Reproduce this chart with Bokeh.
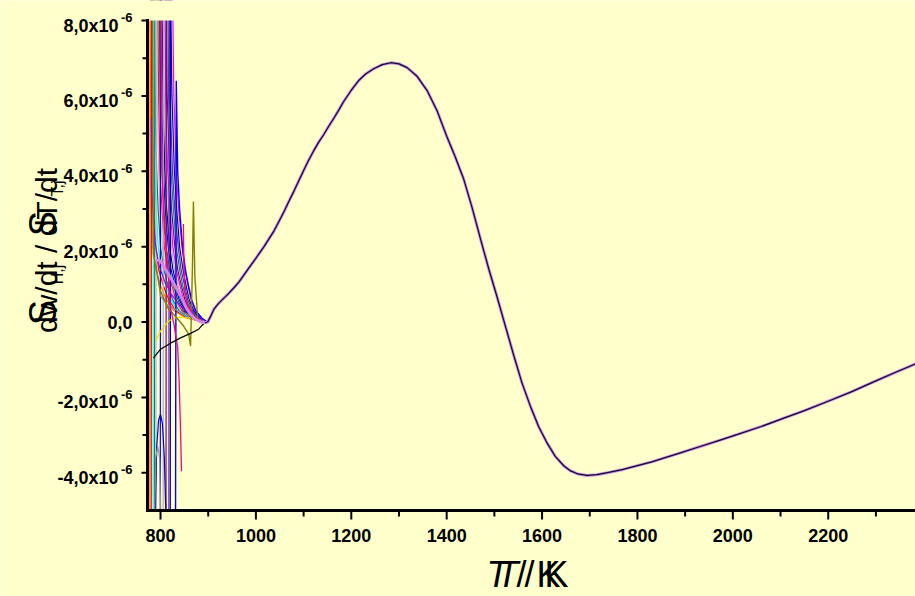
import numpy as np
from bokeh.plotting import figure
from bokeh.models import Range1d
from bokeh.core.properties import value
from bokeh.embed import file_html
from bokeh.resources import INLINE

FONT = "Liberation Sans"
BG = "#FFFFCC"

# ---- converged rate curve (T in K, rate in units of 1e-6) ----
T_main = [790, 800, 810, 820, 831, 842, 852, 862, 873, 885, 893, 899, 905, 912, 920,
          930, 940, 954, 965, 975, 985, 996, 1006, 1017, 1027, 1038, 1048, 1059,
          1069, 1080, 1090, 1100, 1110, 1121, 1131, 1142, 1152, 1163, 1174, 1184,
          1200, 1215, 1230, 1247, 1265, 1283, 1300, 1317, 1338, 1359, 1380, 1401,
          1418, 1436, 1453, 1471, 1488, 1506, 1524, 1541, 1558, 1576, 1593, 1611,
          1628, 1646, 1660, 1675, 1694, 1715, 1740, 1770, 1800, 1830, 1860, 1890,
          1930, 1967, 2010, 2060, 2107, 2150, 2200, 2247, 2300, 2340, 2383]
rate_main = [1.65, 1.62, 1.40, 1.20, 0.95, 0.70, 0.42, 0.22, 0.08, 0.00, -0.02, 0.00,
             0.15, 0.34, 0.47, 0.60, 0.72, 0.91, 1.07, 1.25, 1.43, 1.62, 1.80, 2.00,
             2.20, 2.42, 2.66, 2.93, 3.20, 3.48, 3.75, 4.02, 4.28, 4.54, 4.76, 4.97,
             5.18, 5.40, 5.63, 5.85, 6.15, 6.40, 6.58, 6.72, 6.83, 6.88, 6.85, 6.75,
             6.52, 6.14, 5.60, 4.90, 4.38, 3.78, 3.05, 2.20, 1.42, 0.65, -0.15, -0.90,
             -1.62, -2.25, -2.78, -3.22, -3.57, -3.82, -3.95, -4.03, -4.07, -4.05,
             -3.99, -3.91, -3.81, -3.71, -3.59, -3.47, -3.31, -3.16, -2.98, -2.77,
             -2.55, -2.35, -2.10, -1.86, -1.56, -1.34, -1.11]

# ---- diverging low-temperature solutions: T reached at each rate level ----
fan_levels = [9.0, 6.0, 4.0, 3.0, 2.0, 1.4, 1.0, 0.6, 0.3, 0.1, 0.0]
fan_T = [
    [778, 779, 780, 781, 784, 790, 799, 812, 828, 855, 893],
    [781, 782, 784, 786, 790, 796, 805, 817, 832, 858, 893],
    [785, 786, 788, 791, 795, 802, 810, 821, 836, 860, 894],
    [788, 789, 792, 795, 800, 807, 815, 825, 839, 862, 894],
    [791, 793, 796, 799, 804, 811, 819, 829, 842, 864, 895],
    [794, 796, 799, 803, 808, 815, 823, 832, 845, 866, 895],
    [797, 799, 803, 807, 812, 819, 826, 836, 848, 868, 895],
    [800, 802, 806, 810, 816, 822, 830, 839, 851, 870, 896],
    [803, 805, 809, 813, 819, 826, 833, 842, 853, 872, 896],
    [806, 808, 812, 817, 823, 829, 836, 845, 856, 874, 896],
    [809, 811, 815, 820, 826, 833, 840, 848, 859, 876, 897],
    [812, 814, 819, 823, 830, 836, 843, 851, 861, 878, 897],
    [815, 817, 822, 827, 833, 840, 846, 854, 864, 880, 897],
    [818, 820, 825, 830, 837, 843, 850, 857, 867, 882, 898],
    [821, 824, 829, 834, 840, 847, 853, 860, 870, 884, 898],
    [825, 828, 833, 838, 845, 851, 857, 864, 873, 886, 898],
]
fan_colors = ["#FF8000", "#FF0000", "#00FFFF", "#008080", "#C0C0C0", "#FF0080",
              "#008000", "#0000FF", "#000080", "#B0B0B0", "#FF00FF", "#800080",
              "#008080", "#6020C0", "#0000C0", "#FF00FF"]
# solutions that come up from below before the pole
fan_cross = [True, True, True, True, True, False, False, True, False, True,
             False, True, False, True, True, False]

# individual low-temperature branches
T_blue = [831, 833, 836, 840, 846, 852, 858, 865, 874, 887, 898]
r_blue = [-9.0, 6.4, 4.0, 3.0, 2.0, 1.4, 1.0, 0.6, 0.3, 0.1, 0.0]

T_violet = [781, 782, 785, 790, 797, 808, 822, 840, 862, 894]
r_violet = [5.4, 3.6, 2.6, 2.0, 1.5, 1.1, 0.75, 0.45, 0.2, 0.0]

T_black = [895, 886, 880, 863, 842, 821, 800, 785]
r_black = [0.00, -0.10, -0.19, -0.30, -0.42, -0.56, -0.72, -0.96]

T_yellow = [790, 800, 815, 827, 842, 863, 880, 895]
r_yellow = [-0.50, -0.24, 0.00, 0.10, 0.13, 0.10, 0.05, 0.00]

T_olive = [783, 785, 800, 815, 836, 848, 859, 863, 867, 869, 872, 878, 890]
r_olive = [9.0, 1.8, 0.82, 0.38, 0.08, -0.10, -0.32, -0.64, 1.5, 3.2, 1.2, 0.10, 0.00]

T_gray = [790, 800, 815, 836, 857, 880, 895]
r_gray = [1.6, 0.69, 0.45, 0.30, 0.20, 0.08, 0.00]

T_pink_lo = [800, 803, 808, 815, 821, 828, 836, 839, 842, 844]
r_pink_lo = [9.0, 4.0, 2.5, 1.5, 0.38, -0.05, -0.68, -1.56, -2.90, -3.96]
T_pink_hi = [848, 849, 851, 857, 870, 890]
r_pink_hi = [2.6, 1.5, 0.8, 0.45, 0.15, 0.0]

T_arch_blue = [788, 792, 796, 800, 804, 808, 812]
r_arch_blue = [-6.0, -3.3, -2.6, -2.45, -2.7, -3.6, -5.5]
T_arch_gray = [786, 790, 794, 798, 802]
r_arch_gray = [-6.0, -3.6, -3.3, -3.6, -6.0]

# ---- axis scales and ticks ----
x_lo, x_hi = 772.7, 2383.0
y_lo, y_hi = -5.0, 8.0
xtick_vals = [800, 1000, 1200, 1400, 1600, 1800, 2000, 2200]
xminor_vals = [900, 1100, 1300, 1500, 1700, 1900, 2100, 2300]
ytick_vals = [-4, -2, 0, 2, 4, 6, 8]
yminor_vals = [-3, -1, 1, 3, 5, 7]

W, H = 915, 596
AREA_L, AREA_T, AREA_B = 147, 20, 510        # plotting area in pixels
kx = (W - AREA_L) / (x_hi - x_lo)             # px per K
ky = (AREA_B - AREA_T) / (y_hi - y_lo)        # px per 1e-6
cx0 = x_lo - AREA_L / kx
cy1 = y_hi + AREA_T / ky
cy0 = y_lo - (H - AREA_B) / ky

p = figure(width=W, height=H, output_backend="svg", toolbar_location=None,
           x_range=Range1d(cx0, x_hi), y_range=Range1d(cy0, cy1),
           x_axis_type=None, y_axis_type=None,
           background_fill_color=BG, border_fill_color=BG,
           min_border=0)
p.outline_line_color = None
p.grid.visible = False

# diverging branches
fan_xs, fan_ys = [], []
for Ts, cross in zip(fan_T, fan_cross):
    xs = list(Ts)
    ys = list(fan_levels)
    if cross:
        xs = [Ts[0] - 0.6] + xs
        ys = [-9.0] + ys
    fan_xs.append(xs)
    fan_ys.append(ys)
p.multi_line(fan_xs, fan_ys, line_color=fan_colors, line_width=1.2)

p.line(T_blue, r_blue, line_color="#0000FF", line_width=1.4)
p.line(T_violet, r_violet, line_color="#9900EE", line_width=1.2)
p.line(T_gray, r_gray, line_color="#909090", line_width=1.2)
p.line(T_yellow, r_yellow, line_color="#F0E000", line_width=1.2)
p.line(T_olive, r_olive, line_color="#808000", line_width=1.4)
p.line(T_pink_lo, r_pink_lo, line_color="#FF0080", line_width=1.3)
p.line(T_pink_hi, r_pink_hi, line_color="#FF0080", line_width=1.3)
p.line(T_arch_blue, r_arch_blue, line_color="#0000C0", line_width=1.2)
p.line(T_arch_gray, r_arch_gray, line_color="#909090", line_width=1.2)
p.line(T_black, r_black, line_color="black", line_width=1.2)

# converged solution
T_arr = np.array(T_main, dtype=float)
r_arr = np.array(rate_main, dtype=float)
p.line(T_arr, r_arr, line_color="#D088E8", line_width=3, line_join="round")
hot = T_arr >= 893
p.line(T_arr[hot], r_arr[hot], line_color="#0A0A28", line_width=1.2,
       line_join="round")

# keep the curves inside the axis box
p.quad(left=cx0, right=x_hi, bottom=cy0, top=y_lo, fill_color=BG, line_color=None)
p.quad(left=cx0, right=x_hi, bottom=y_hi, top=cy1, fill_color=BG, line_color=None)
p.quad(left=cx0, right=x_lo, bottom=y_lo, top=y_hi, fill_color=BG, line_color=None)

# ---- axes ----
p.segment(x0=[x_lo, x_lo], y0=[y_lo, y_lo], x1=[x_lo, x_hi], y1=[y_hi, y_lo],
          line_color="black", line_width=3, line_cap="square")
n_x, n_xm = len(xtick_vals), len(xminor_vals)
p.segment(x0=xtick_vals, y0=[y_lo] * n_x, x1=xtick_vals, y1=[y_lo - 9 / ky] * n_x,
          line_color="black", line_width=2)
p.segment(x0=xminor_vals, y0=[y_lo] * n_xm, x1=xminor_vals,
          y1=[y_lo - 6 / ky] * n_xm, line_color="black", line_width=2)
n_y, n_ym = len(ytick_vals), len(yminor_vals)
p.segment(x0=[x_lo] * n_y, y0=ytick_vals, x1=[x_lo - 6 / kx] * n_y, y1=ytick_vals,
          line_color="black", line_width=2)
p.segment(x0=[x_lo] * n_ym, y0=yminor_vals, x1=[x_lo - 5 / kx] * n_ym,
          y1=yminor_vals, line_color="black", line_width=2)

# x tick labels
p.text(x=xtick_vals, y=[y_lo] * n_x, text=[str(v) for v in xtick_vals],
       y_offset=25, text_align="center", text_baseline="middle",
       text_font=value(FONT), text_font_size="18px", text_font_style="bold",
       text_color="black")

# y tick labels: mantissa with a raised exponent
nz = [v for v in ytick_vals if v != 0]
p.text(x=[x_lo] * len(nz), y=nz,
       text=[f"{v:.1f}".replace(".", ",") + "x10" for v in nz],
       x_offset=-29, y_offset=5, text_align="right", text_baseline="middle",
       text_font=value(FONT), text_font_size="18px", text_font_style="bold",
       text_color="black")
p.text(x=[x_lo] * len(nz), y=nz, text=["-6"] * len(nz),
       x_offset=-15, y_offset=-3, text_align="right", text_baseline="middle",
       text_font=value(FONT), text_font_size="13px", text_font_style="bold",
       text_color="black")
p.text(x=[x_lo], y=[0], text=["0,0"], x_offset=-15, text_align="right",
       text_baseline="middle", text_font=value(FONT), text_font_size="18px",
       text_font_style="bold", text_color="black")

# ---- axis titles, offsets measured from the lower-left corner of the box ----
def title_piece(text, dx, dy, size, style="normal", angle=0.0, align="left"):
    p.text(x=[x_lo], y=[y_lo], text=[text], x_offset=dx, y_offset=dy, angle=angle,
           text_align=align, text_baseline="middle", text_font=value(FONT),
           text_font_size=size, text_font_style=style, text_color="black")

title_piece("T", 339, 64, "36px", "italic")
title_piece("T", 349, 64, "36px", "italic")
title_piece("/ K", 369, 64, "36px")
title_piece("/ K", 377, 64, "36px")

rot = np.pi / 2
title_piece("dw/dt / dT/dt", -101, -260, "30px", angle=rot, align="center")
title_piece("S", -105, -198, "38px", angle=rot, align="center")
title_piece("H,j", -90, -236, "16px", angle=rot, align="center")
title_piece("S", -105, -287, "38px", angle=rot, align="center")
title_piece("T,j", -90, -322, "16px", angle=rot, align="center")

open("out.html", "w").write(file_html(p, INLINE))
